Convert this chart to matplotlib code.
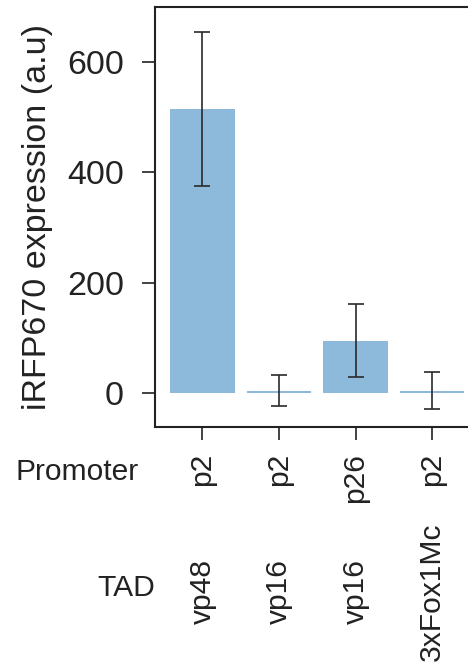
import matplotlib
matplotlib.use("Agg")
import matplotlib.pyplot as plt
import matplotlib.transforms as mtransforms

plt.rcParams['font.family'] = ['Liberation Sans', 'DejaVu Sans']

promoters = ["p2", "p2", "p26", "p2"]
tads = ["vp48", "vp16", "vp16", "3xFox1Mc"]
values = [514, 5, 95, 5]
errors = [139, 28, 66, 33]
yticks = [0, 200, 400, 600]

W, H = 468, 666
fig = plt.figure(figsize=(W / 100, H / 100), dpi=100)
ax = fig.add_axes([155 / W, 1 - 427 / H, (479.5 - 155) / W, (427 - 7) / H])

x = list(range(len(values)))
ax.bar(x, values, width=0.84, color='#8DB9DA', edgecolor='none', zorder=1)
ax.errorbar(x, values, yerr=errors, fmt='none', ecolor='#2a2a2a',
            elinewidth=1.2, capsize=5.5, capthick=1.2, zorder=2)

ax.set_xlim(-0.62, 3.62)
ax.set_ylim(-61, 699)
ax.set_yticks(yticks)
ax.set_yticklabels([str(v) for v in yticks])
ax.set_xticks(x)
ax.set_xticklabels([])
ax.tick_params(axis='y', length=9.4, width=1.2, pad=13, labelsize=24.5,
               colors='#222222')
ax.tick_params(axis='x', length=9, width=1.2, colors='#222222')
for s in ax.spines.values():
    s.set_linewidth(1.5)
    s.set_color('#222222')

fig.text(38 / W, 1 - 217 / H, "iRFP670 expression (a.u)", rotation=90,
         ha='center', va='center', fontsize=24.5, color='#222222')

tr = mtransforms.blended_transform_factory(ax.transData, fig.transFigure)
fs = 21.6
fig.text(139 / W, 1 - 472 / H, "Promoter", ha='right', va='center',
         fontsize=fs, color='#222222')
fig.text(155 / W, 1 - 588 / H, "TAD", ha='right', va='center',
         fontsize=fs, color='#222222')
for i, (p, t) in enumerate(zip(promoters, tads)):
    ax.text(i, 1 - 453 / H, p, transform=tr, rotation=90, ha='center',
            va='top', fontsize=fs, color='#222222')
    ax.text(i, 1 - 592 / H, t, transform=tr, rotation=90, ha='center',
            va='center', fontsize=fs, color='#222222')

fig.savefig("out.png", dpi=100)
